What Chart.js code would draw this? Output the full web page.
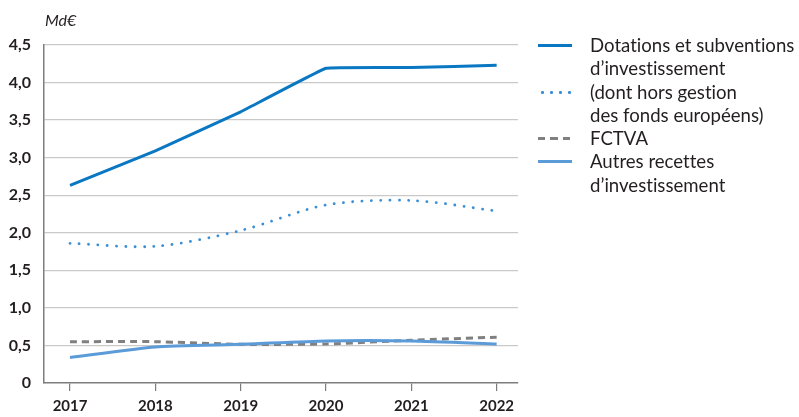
<!DOCTYPE html>
<html lang="fr">
<head>
<meta charset="UTF-8">
<title>Recettes d'investissement</title>
<script src="https://cdn.jsdelivr.net/npm/chart.js"></script>
<style>
    body { margin: 0; background: #fff; font-family: Lato, "Open Sans", sans-serif; color: #231f20; font-variant-ligatures: none; }
    .wrap { position: relative; width: 799px; height: 417px; }
    .unite { position: absolute; left: 45px; top: 10px; font-style: italic; font-size: 16px; }
    .legende { position: absolute; left: 538px; top: 34px; font-size: 18.6px; line-height: 23.3px; }
    .legende .item { position: relative; padding-left: 52px; }
    .legende .trait { position: absolute; left: 0; top: 10px; width: 34px; height: 3px; }
</style>
</head>
<body>
<div class="wrap">
    <canvas id="graphique" width="799" height="417"></canvas>
    <div class="unite">Md€</div>
    <div class="legende">
        <div class="item"><span class="trait" style="background: #0a77c2;"></span>Dotations et subventions<br>d’investissement</div>
        <div class="item"><span class="trait" style="background: radial-gradient(circle, #3b8fd5 1.3px, transparent 1.7px) 0 0 / 9px 3px repeat-x;"></span>(dont hors gestion<br>des fonds européens)</div>
        <div class="item"><span class="trait" style="background: repeating-linear-gradient(90deg, #808080 0 7px, transparent 7px 12.5px);"></span>FCTVA</div>
        <div class="item"><span class="trait" style="background: #5b9bd8;"></span>Autres recettes<br>d’investissement</div>
    </div>
</div>
<script>
    // données (Md€)
    const annees = [2017, 2018, 2019, 2020, 2021, 2022];
    const dotations = [2.63, 3.09, 3.61, 4.19, 4.20, 4.23];
    const horsFondsEuropeens = [1.86, 1.82, 2.03, 2.37, 2.43, 2.29];
    const fctva = [0.55, 0.55, 0.515, 0.52, 0.57, 0.61];
    const autresRecettes = [0.34, 0.48, 0.515, 0.56, 0.56, 0.52];
    const ticksY = [0, 0.5, 1, 1.5, 2, 2.5, 3, 3.5, 4, 4.5];

    function points(valeurs) {
        return annees.map((a, i) => ({ x: a, y: valeurs[i] }));
    }

    const ctx = document.getElementById('graphique').getContext('2d');
    const texte = '#231f20';
    const axe = '#7d7d7d';

    new Chart(ctx, {
        type: 'line',
        data: {
            datasets: [{
                label: 'Autres recettes d’investissement',
                data: points(autresRecettes),
                borderColor: '#5b9bd8',
                borderWidth: 3,
                tension: 0.2
            }, {
                label: 'FCTVA',
                data: points(fctva),
                borderColor: '#808080',
                borderWidth: 3,
                borderDash: [7, 5],
                tension: 0.2
            }, {
                label: '(dont hors gestion des fonds européens)',
                data: points(horsFondsEuropeens),
                borderColor: '#3b8fd5',
                borderWidth: 2.8,
                borderDash: [0.1, 9.2],
                borderCapStyle: 'round',
                tension: 0.3
            }, {
                label: 'Dotations et subventions d’investissement',
                data: points(dotations),
                borderColor: '#0a77c2',
                borderWidth: 3,
                tension: 0.06
            }]
        },
        options: {
            responsive: false,
            animation: false,
            events: [],
            elements: { point: { radius: 0 } },
            layout: { padding: { top: 45, right: 281, left: 0, bottom: 0 } },
            plugins: { legend: { display: false }, tooltip: { enabled: false } },
            scales: {
                x: {
                    type: 'linear',
                    min: 2016.695,
                    max: 2022.25,
                    afterBuildTicks: s => { s.ticks = annees.map(a => ({ value: a })); },
                    afterFit: s => { s.height = 34; },
                    border: { color: axe, width: 1.5 },
                    grid: { drawOnChartArea: false, color: axe, lineWidth: 1.2, tickLength: 8 },
                    ticks: {
                        color: texte,
                        padding: 6,
                        font: { family: 'Lato', size: 15, weight: 'bold' },
                        callback: v => String(v)
                    }
                },
                y: {
                    min: 0,
                    max: 4.5,
                    afterBuildTicks: s => { s.ticks = ticksY.map(v => ({ value: v })); },
                    afterFit: s => { s.width = 44; },
                    border: { color: axe, width: 1.5 },
                    grid: {
                        color: c => c.tick.value === 0 ? 'rgba(0,0,0,0)' : '#c9c9c9',
                        lineWidth: 1.3,
                        drawTicks: false,
                        tickBorderDash: [8, 7]
                    },
                    ticks: {
                        color: texte,
                        padding: 13,
                        font: { family: 'Lato', size: 16, weight: 'bold' },
                        callback: v => v === 0 ? '0' : v.toFixed(1).replace('.', ',')
                    }
                }
            }
        }
    });
</script>
</body>
</html>
